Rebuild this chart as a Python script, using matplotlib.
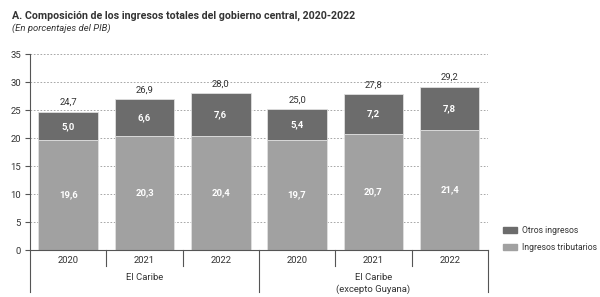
import matplotlib.pyplot as plt
from matplotlib.patches import Patch

plt.rcParams['font.family'] = ['Roboto', 'DejaVu Sans']

years = ['2020', '2021', '2022', '2020', '2021', '2022']
groups = ['El Caribe', 'El Caribe\n(excepto Guyana)']
tributarios = [19.6, 20.3, 20.4, 19.7, 20.7, 21.4]
otros = [5.0, 6.6, 7.6, 5.4, 7.2, 7.8]
totales = [24.7, 26.9, 28.0, 25.0, 27.8, 29.2]

c_trib = '#a1a1a1'
c_otros = '#6c6c6c'
c_text = '#333333'

fig = plt.figure(figsize=(6, 2.97), dpi=100)
ax = fig.add_axes([0.05, 0.158, 0.763, 0.66])

x = range(len(years))
ax.bar(x, tributarios, width=0.78, color=c_trib, edgecolor='#e0e0e0', linewidth=0.6, zorder=2)
ax.bar(x, otros, width=0.78, bottom=tributarios, color=c_otros, edgecolor='#e0e0e0', linewidth=0.6, zorder=2)

for i in x:
    ax.text(i, tributarios[i] / 2, f"{tributarios[i]:.1f}".replace('.', ','),
            ha='center', va='center', color='white', fontsize=6.8, fontweight='bold')
    ax.text(i, tributarios[i] + otros[i] / 2, f"{otros[i]:.1f}".replace('.', ','),
            ha='center', va='center', color='white', fontsize=6.8, fontweight='bold')
    ax.text(i, totales[i] + 0.9, f"{totales[i]:.1f}".replace('.', ','),
            ha='center', va='bottom', color=c_text, fontsize=6.8)

ax.set_xlim(-0.5, 5.5)
ax.set_ylim(0, 35)
ax.set_yticks(range(0, 36, 5))
ax.yaxis.grid(True, linestyle=(0, (2, 2)), color='#999999', linewidth=0.6, zorder=0)
ax.set_axisbelow(True)
ax.tick_params(axis='y', direction='out', length=3.5, width=0.8, color='#555555',
               labelsize=6.8, labelcolor=c_text, pad=3)
ax.set_xticks([])
for s in ['top', 'right']:
    ax.spines[s].set_visible(False)
for s in ['left', 'bottom']:
    ax.spines[s].set_color('#555555')
    ax.spines[s].set_linewidth(0.8)

trans = ax.get_xaxis_transform()
for i in x:
    ax.text(i, -0.051, years[i], transform=trans, ha='center', va='center', fontsize=6.8, color=c_text)
for b in [0.5, 1.5, 3.5, 4.5]:
    ax.plot([b, b], [0, -0.08], transform=trans, color='#555555', lw=0.8, clip_on=False)
for b in [-0.5, 2.5, 5.5]:
    ax.plot([b, b], [0, -0.212], transform=trans, color='#555555', lw=0.8, clip_on=False)
ax.text(1, -0.118, groups[0], transform=trans, ha='center', va='top', fontsize=6.8, color=c_text)
ax.text(4, -0.118, groups[1], transform=trans, ha='center', va='top', fontsize=6.8, color=c_text,
        linespacing=1.3)

handles = [Patch(color=c_otros, label='Otros ingresos'),
           Patch(color=c_trib, label='Ingresos tributarios')]
fig.legend(handles=handles, loc='lower left', bbox_to_anchor=(0.838, 0.15), frameon=False,
           borderpad=0, borderaxespad=0, fontsize=6.2, handlelength=1.7, handleheight=0.7,
           handletextpad=0.5, labelspacing=1.0, labelcolor=c_text)

fig.text(0.02, 0.946, 'A. Composición de los ingresos totales del gobierno central, 2020-2022',
         fontsize=7.7, fontweight='bold', color=c_text, va='center')
fig.text(0.02, 0.904, '(En porcentajes del PIB)', fontsize=6.8, style='italic', color=c_text, va='center')

fig.savefig('out.png', dpi=100)
